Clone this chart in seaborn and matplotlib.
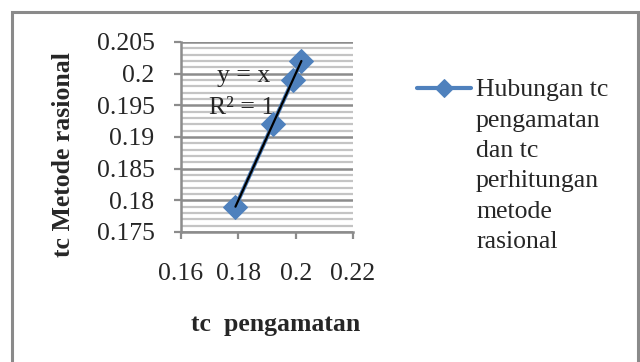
import matplotlib
matplotlib.use("Agg")
import matplotlib.pyplot as plt
from matplotlib.patches import Rectangle
from matplotlib.ticker import MultipleLocator
import numpy as np
import pandas as pd
import seaborn as sns

# ── Data ──────────────────────────────────────────────────────────────────────

tc_pengamatan = [0.179, 0.192, 0.199, 0.202]
tc_rasional   = [0.179, 0.192, 0.199, 0.202]
series_label  = "Hubungan tc\npengamatan\ndan tc\nperhitungan\nmetode\nrasional"
x_ticks = [0.16, 0.18, 0.2, 0.22]
x_tick_labels = ["0.16", "0.18", "0.2", "0.22"]
y_ticks = [0.175, 0.18, 0.185, 0.19, 0.195, 0.2, 0.205]
y_tick_labels = ["0.175", "0.18", "0.185", "0.19", "0.195", "0.2", "0.205"]

df = pd.DataFrame({"x": tc_pengamatan, "y": tc_rasional})

# ── Style ─────────────────────────────────────────────────────────────────────

sns.set_style("white")
plt.rcParams["font.family"] = ["Liberation Serif", "DejaVu Serif"]
FS = 18.5
BLUE = "#4F81BD"
GRID_MAJOR = "#8C8C8C"
GRID_MINOR = "#C4C4C4"

fig = plt.figure(figsize=(6.4, 3.62), dpi=100)
ax = fig.add_axes([181 / 640, 1 - 232 / 362, 172 / 640, 190 / 362])

# outer chart frame
fig.patches.append(Rectangle((12 / 640, -0.1), 626 / 640, 1.1 - 12.5 / 362,
                             transform=fig.transFigure, fill=False,
                             edgecolor="#8A8A8A", linewidth=2.2))

# ── Plot ──────────────────────────────────────────────────────────────────────

ax.set_xlim(0.16, 0.22)
ax.set_ylim(0.175, 0.205)
ax.yaxis.set_minor_locator(MultipleLocator(0.001))
ax.grid(axis="y", which="minor", color=GRID_MINOR, linewidth=1.6, zorder=0)
ax.grid(axis="y", which="major", color=GRID_MAJOR, linewidth=1.8, zorder=0)
ax.set_axisbelow(True)

sns.lineplot(data=df, x="x", y="y", ax=ax, sort=False, color=BLUE,
             linewidth=3, marker="D", markersize=12.5, markeredgecolor=BLUE,
             label=series_label, zorder=3)
sns.regplot(data=df, x="x", y="y", ax=ax, scatter=False, ci=None,
            truncate=True, line_kws={"color": "black", "linewidth": 1.6, "zorder": 4})

ax.text(0.182, 0.1996, "y = x", fontsize=FS, ha="center", va="center", zorder=2.5)
ax.text(0.1813, 0.1946, "R² = 1", fontsize=FS, ha="center", va="center", zorder=2.5)

ax.set_xticks(x_ticks)
ax.set_xticklabels(x_tick_labels)
ax.set_yticks(y_ticks)
ax.set_yticklabels(y_tick_labels)
ax.tick_params(axis="x", which="major", direction="out", length=5, width=1.6,
               color=GRID_MAJOR, labelsize=FS, pad=17, bottom=True)
ax.tick_params(axis="y", which="major", direction="out", length=5, width=1.6,
               color=GRID_MAJOR, labelsize=FS, pad=14, left=True)
ax.tick_params(axis="y", which="minor", length=0)

for side in ["top", "right"]:
    ax.spines[side].set_visible(False)
for side in ["left", "bottom"]:
    ax.spines[side].set_color(GRID_MAJOR)
    ax.spines[side].set_linewidth(1.8)

ax.set_xlabel("")
ax.set_ylabel("")
fig.text(276 / 640, 1 - 325 / 362, "tc  pengamatan", fontsize=FS,
         fontweight="bold", ha="center", va="center")
fig.text(63 / 640, 1 - 155 / 362, "tc Metode rasional", fontsize=FS,
         fontweight="bold", ha="center", va="center", rotation=90)

leg = ax.legend(loc="upper left", bbox_to_anchor=(417 / 640, 1 - 79 / 362),
                bbox_transform=fig.transFigure, frameon=False, fontsize=FS,
                handlelength=2.1, handletextpad=0.2, borderpad=0, borderaxespad=0)
for txt in leg.get_texts():
    txt.set_linespacing(1.5)
for h in leg.legend_handles:
    h.set_markersize(9.5)
for col in leg._legend_handle_box.get_children():
    for hp in col.get_children():
        hp.align = "top"

fig.savefig("out.png", dpi=100)
